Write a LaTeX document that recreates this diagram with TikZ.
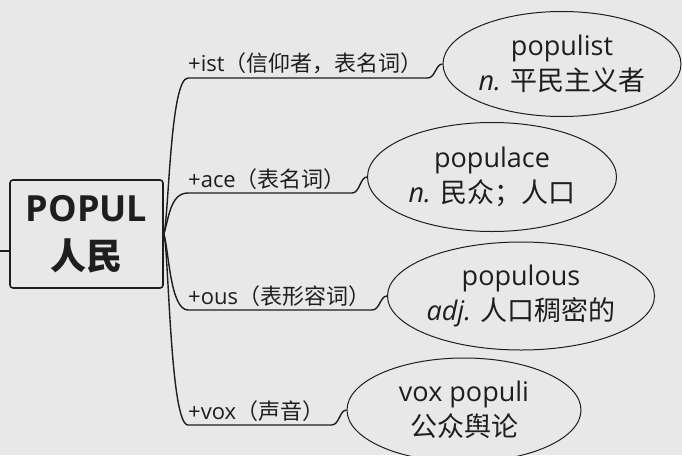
\documentclass[tikz,border=0pt]{standalone}
\usepackage{fontspec}
\setmainfont{Open Sans}
\newfontfamily\cjk{Noto Sans CJK SC}
\usetikzlibrary{shapes.geometric}
\definecolor{paper}{RGB}{232,232,232}
\definecolor{ink}{RGB}{30,30,30}

\begin{document}
\begin{tikzpicture}[
  x=1pt,y=-1pt,
  root/.style={draw=ink,line width=1.6pt,rounded corners=3pt,minimum width=153pt,minimum height=108pt,
    inner sep=0pt,font=\fontsize{36}{48}\selectfont\bfseries,align=center,text=ink},
  lbl/.style={anchor=south west,inner xsep=0pt,inner ysep=3.5pt,font=\fontsize{22}{26}\selectfont,text=ink},
  word/.style={draw=ink,ellipse,line width=1pt,fill=paper,inner sep=0pt,
    font=\fontsize{27}{35}\selectfont,align=center,text=ink},
  conn/.style={draw=ink,line width=1.4pt}
]
\fill[paper] (0,0) rectangle (682,455);
\useasboundingbox (0,0) rectangle (682,455);

\node[root] (root) at (86.5,234) {POPUL\\{\cjk 人民}};
\coordinate (src) at (0,251);
\draw[conn] (src) -- (src -| root.west);

% suffix labels
\node[lbl] (l1) at (188,78) {+ist{\cjk（信仰者，表名词）}};
\node[lbl] (l2) at (188,193) {+ace{\cjk（表名词）}};
\node[lbl] (l3) at (188,310) {+ous{\cjk（表形容词）}};
\node[lbl] (l4) at (188,425) {+vox{\cjk（声音）}};

% derived words
\node[word,minimum width=238pt,minimum height=105pt] (e1) at (562,64) {populist\\\textit{n.} {\cjk 平民主义者}};
\node[word,minimum width=249pt,minimum height=109pt] (e2) at (492,177) {populace\\\textit{n.} {\cjk 民众；人口}};
\node[word,minimum width=258pt,minimum height=108pt] (e3) at (521,296) {populous\\\textit{adj.} {\cjk 人口稠密的}};
\node[word,minimum width=234pt,minimum height=104pt] (e4) at (464,410) {vox populi\\{\cjk 公众舆论}};

\draw[conn] (root.east) .. controls +(5,-15) and +(-18,0) .. (l1.south west)
  -- ([xshift=-15pt]e1.west |- l1.south) .. controls +(8,0) and +(-7,0) .. (e1.west);
\draw[conn] (root.east) .. controls +(5,-15) and +(-18,0) .. (l2.south west)
  -- ([xshift=-15pt]e2.west |- l2.south) .. controls +(8,0) and +(-7,0) .. (e2.west);
\draw[conn] (root.east) .. controls +(5,15) and +(-18,0) .. (l3.south west)
  -- ([xshift=-15pt]e3.west |- l3.south) .. controls +(8,0) and +(-7,0) .. (e3.west);
\draw[conn] (root.east) .. controls +(5,15) and +(-18,0) .. (l4.south west)
  -- ([xshift=-15pt]e4.west |- l4.south) .. controls +(8,0) and +(-7,0) .. (e4.west);
\end{tikzpicture}
\end{document}
